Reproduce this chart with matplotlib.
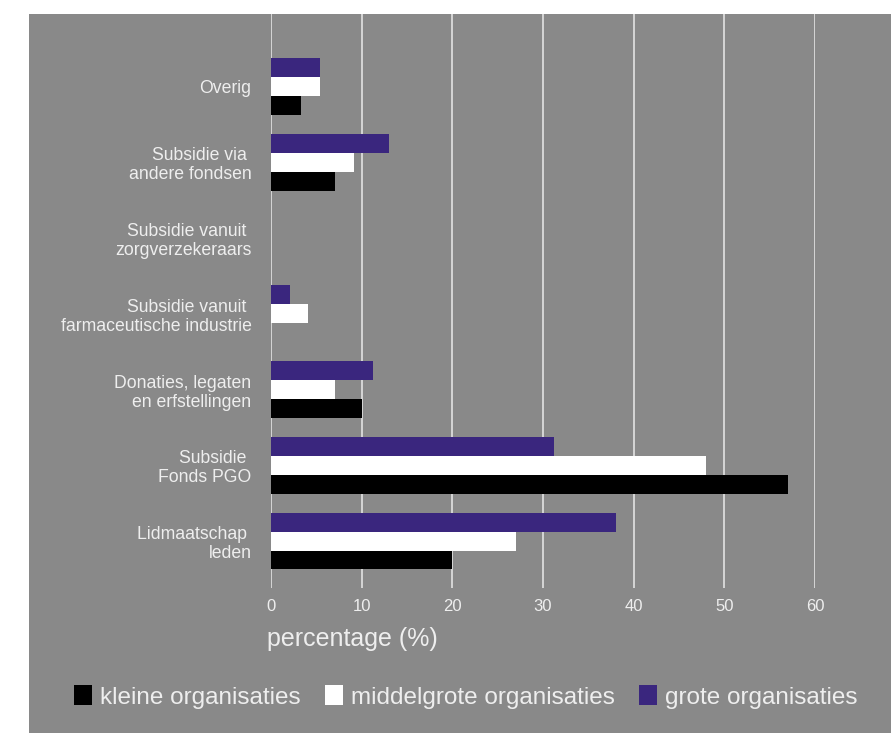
import numpy as np
import matplotlib.pyplot as plt
from matplotlib.patches import Rectangle, Patch

plt.rcParams['font.family'] = ['Liberation Sans', 'DejaVu Sans']

categories = ['Lidmaatschap \nleden',
              'Subsidie \nFonds PGO',
              'Donaties, legaten\nen erfstellingen',
              'Subsidie vanuit \nfarmaceutische industrie',
              'Subsidie vanuit \nzorgverzekeraars',
              'Subsidie via \nandere fondsen',
              'Overig']
kleine = [20, 57, 10, 0, 0, 7.1, 3.3]
middelgroot = [27, 48, 7.1, 4.1, 0, 9.2, 5.4]
groot = [38, 31.2, 11.3, 2.1, 0, 13, 5.4]
series_labels = ['kleine organisaties', 'middelgrote organisaties', 'grote organisaties']
xticks = [0, 10, 20, 30, 40, 50, 60]

bg = '#898989'
txt = '#eeeeee'
purple = '#3a267e'

fig = plt.figure(figsize=(8.91, 7.33), dpi=100)
fig.patch.set_facecolor('white')
fig.patches.append(Rectangle((29 / 891, 0), 1 - 29 / 891, 1 - 14 / 733,
                             transform=fig.transFigure, facecolor=bg,
                             edgecolor='none', zorder=-5))

ax = fig.add_axes([271 / 891, 1 - 588 / 733, (815 - 271) / 891, (588 - 14) / 733])
ax.set_facecolor('none')

y = np.arange(len(categories))
h = 0.25
ax.barh(y - h, kleine, h, color='black', linewidth=0, zorder=3)
ax.barh(y, middelgroot, h, color='white', linewidth=0, zorder=3)
ax.barh(y + h, groot, h, color=purple, linewidth=0, zorder=3)

ax.set_xlim(0, 60)
ax.set_ylim(-0.62, 6.96)
ax.set_xticks(xticks)
ax.set_yticks(y)
ax.set_yticklabels(categories, fontsize=12.7, color=txt, ha='right',
                   multialignment='right', linespacing=1.15)
ax.tick_params(axis='x', length=0, pad=8, labelsize=12, labelcolor=txt)
ax.tick_params(axis='y', length=0, pad=14)
ax.grid(axis='x', color='#dcdcdc', linewidth=1.3, zorder=4)
ax.set_axisbelow(False)
for s in ax.spines.values():
    s.set_visible(False)

ax.set_xlabel('percentage (%)', fontsize=18, color=txt, ha='left')
ax.xaxis.set_label_coords(-0.007, -0.068)

handles = [Patch(facecolor='black'), Patch(facecolor='white'), Patch(facecolor=purple)]
fig.legend(handles, series_labels, loc='center', bbox_to_anchor=(0.523, 1 - 697 / 733),
           ncol=3, frameon=False, fontsize=17.5, labelcolor=txt,
           handlelength=0.72, handleheight=0.85, handletextpad=0.35, columnspacing=1.0)

fig.savefig('out.png', dpi=100)
